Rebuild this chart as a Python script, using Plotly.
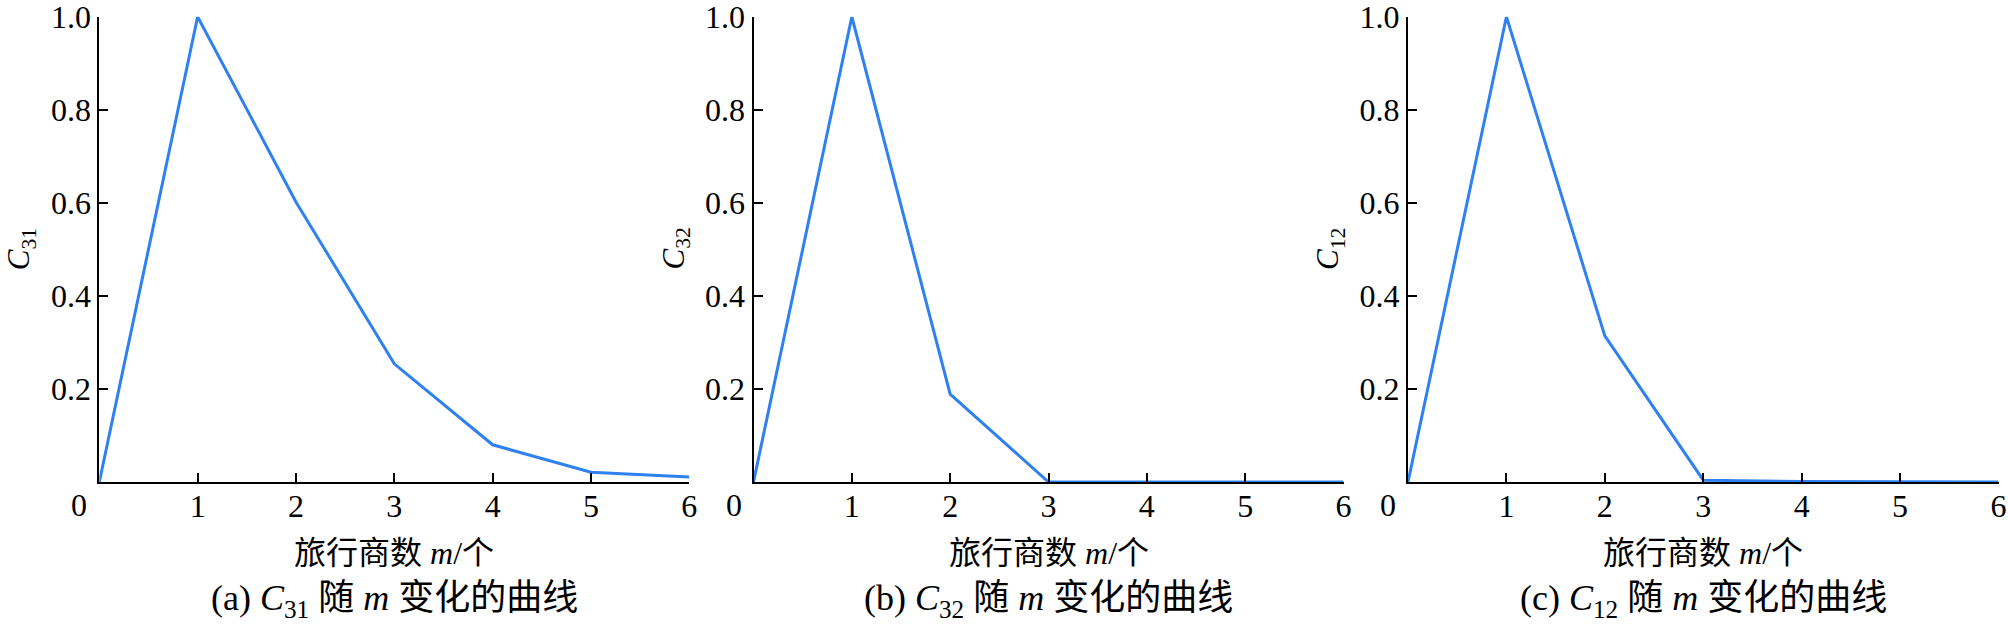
import plotly.graph_objects as go

W, H = 2008, 627

m_values = [0, 1, 2, 3, 4, 5, 6]
c31 = [0, 1.0, 0.602, 0.254, 0.080, 0.021, 0.011]
c32 = [0, 1.0, 0.189, 0.0, 0.0, 0.0, 0.0]
c12 = [0, 1.0, 0.314, 0.004, 0.001, 0.0, 0.0]

y_names = ["<i>C</i><sub>31</sub>", "<i>C</i><sub>32</sub>", "<i>C</i><sub>12</sub>"]
captions = ["(a) <i>C</i><sub>31</sub> 随 <i>m</i> 变化的曲线",
            "(b) <i>C</i><sub>32</sub> 随 <i>m</i> 变化的曲线",
            "(c) <i>C</i><sub>12</sub> 随 <i>m</i> 变化的曲线"]
x_title = "旅行商数 <i>m</i>/个"
x_ticks = [1, 2, 3, 4, 5, 6]
y_ticks = [0.2, 0.4, 0.6, 0.8, 1.0]
y_labels = ["0.2", "0.4", "0.6", "0.8", "1.0"]

FONT = "'Liberation Serif', 'Times New Roman', 'Noto Sans CJK SC', serif"
LINE = "#2f80f0"

# pixel positions of each panel's plot area
panels_px = [(99.3, 689.3), (753.5, 1343.5), (1408, 1998.5)]
top_px, bot_px = 16.7, 482


def px_x(v):
    return v / W


def px_y(v):
    return 1 - v / H


fig = go.Figure()
annotations = []
for i, (series, (x0, x1)) in enumerate(zip([c31, c32, c12], panels_px)):
    n = "" if i == 0 else str(i + 1)
    fig.add_trace(go.Scatter(
        x=m_values, y=series, mode="lines",
        line=dict(color=LINE, width=3),
        xaxis="x" + n, yaxis="y" + n, showlegend=False, cliponaxis=False
    ))
    ax = dict(
        domain=[px_x(x0), px_x(x1)], range=[0, 6.0001], autorange=False,
        tickvals=x_ticks,
        ticks="inside", ticklen=9, tickwidth=2, tickcolor="black",
        showline=True, linecolor="black", linewidth=2,
        showgrid=False, zeroline=False,
        tickfont=dict(family=FONT, size=32, color="black"),
        ticklabeloverflow="allow", ticklabelstandoff=-5, automargin=False,
        anchor="y" + n, fixedrange=True
    )
    ay = dict(
        domain=[px_y(bot_px), px_y(top_px)], range=[0, 1.0001], autorange=False,
        tickvals=y_ticks, ticktext=y_labels,
        ticks="inside", ticklen=9, tickwidth=2, tickcolor="black",
        showline=True, linecolor="black", linewidth=2,
        showgrid=False, zeroline=False,
        tickfont=dict(family=FONT, size=32, color="black"),
        ticklabeloverflow="allow", automargin=False,
        anchor="x" + n, fixedrange=True
    )
    fig.update_layout(**{"xaxis" + n: ax, "yaxis" + n: ay})

    xc = (x0 + x1) / 2
    common = dict(xref="paper", yref="paper", showarrow=False,
                  xanchor="center", yanchor="middle")
    annotations += [
        dict(text="0", x=px_x(x0 - 20), y=px_y(505),
             font=dict(family=FONT, size=32, color="black"), **common),
        dict(text=y_names[i], x=px_x(x0 - 78), y=px_y(249), textangle=-90,
             font=dict(family=FONT, size=31, color="black"), **common),
        dict(text=x_title, x=px_x(xc), y=px_y(553),
             font=dict(family=FONT, size=32, color="black"), **common),
        dict(text=captions[i], x=px_x(xc), y=px_y(600),
             font=dict(family=FONT, size=36, color="black"), **common),
    ]

fig.update_layout(
    width=W, height=H,
    margin=dict(l=0, r=0, t=0, b=0, autoexpand=False),
    paper_bgcolor="white", plot_bgcolor="white",
    font=dict(family=FONT, color="black"),
    annotations=annotations
)

fig.write_html("out.html", config={"displayModeBar": False},
               post_script="document.body.style.margin='0';")
